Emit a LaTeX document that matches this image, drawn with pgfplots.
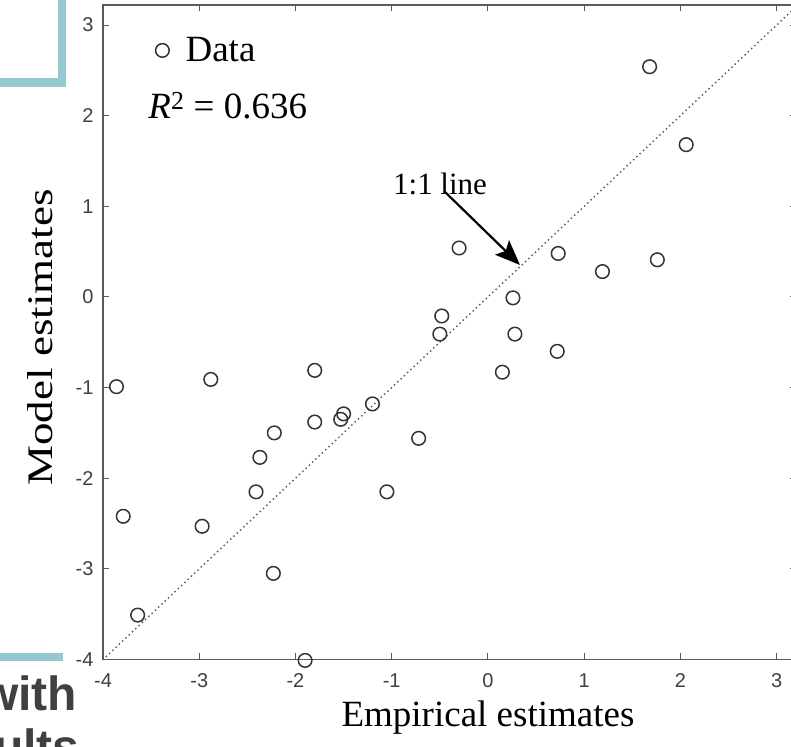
\documentclass[border=0pt]{standalone}
\usepackage{fontspec}
\setmainfont{Liberation Serif}
\newfontfamily\ticksans{Liberation Sans}
\usepackage{graphicx}
\usepackage{pgfplots}
\pgfplotsset{compat=1.18}
\usetikzlibrary{arrows.meta}
\definecolor{slideteal}{RGB}{150,200,207}
\definecolor{slidetext}{RGB}{64,64,64}
\definecolor{axgray}{RGB}{90,90,90}
\begin{document}
\begin{tikzpicture}
\useasboundingbox (0bp,0bp) rectangle (791bp,747bp);
\clip (0bp,0bp) rectangle (791bp,747bp);
\fill[white] (0bp,0bp) rectangle (791bp,747bp);
% leftovers of the slide around the figure
\fill[slideteal] (58bp,660bp) rectangle (66bp,747bp);
\fill[slideteal] (0bp,660bp) rectangle (66bp,669bp);
\fill[slideteal] (0bp,86bp) rectangle (63bp,94bp);
\node[anchor=base west, inner sep=0pt, text=slidetext, font=\ticksans\bfseries\fontsize{48bp}{53bp}\selectfont] at (-19bp,37bp) {with};
\node[anchor=base west, inner sep=0pt, text=slidetext, font=\ticksans\bfseries\fontsize{48bp}{53bp}\selectfont] at (-6bp,-16bp) {ults};
\begin{axis}[
  at={(103bp,87.5bp)}, anchor=south west,
  scale only axis, width=692.9bp, height=654.4bp,
  xmin=-4, xmax=3.2, ymin=-4, ymax=3.22,
  xtick={-4,-3,-2,-1,0,1,2,3}, ytick={-4,-3,-2,-1,0,1,2,3},
  xticklabels={-4,-3,-2,-1,0,1,2,3}, yticklabels={-4,-3,-2,-1,0,1,2,3},
  tick align=inside, tick pos=both, major tick length=6bp,
  axis line style={line width=1.3bp, axgray},
  every tick/.style={line width=1bp, axgray},
  tick label style={font=\ticksans\fontsize{20bp}{22bp}\selectfont, text=slidetext},
  xticklabel style={yshift=-11bp},
  yticklabel style={xshift=-6bp},
  xlabel={Empirical estimates},
  xlabel style={at={(axis description cs:0.5556,-0.1031)}, anchor=base, inner sep=0pt, font=\fontsize{37bp}{40bp}\selectfont},
  ylabel={\scalebox{1.25}[1]{Model estimates}},
  ylabel style={at={(axis description cs:-0.0736,0.492)}, anchor=base, inner sep=0pt, font=\fontsize{36bp}{40bp}\selectfont},
  clip=false,
  legend style={draw=none, fill=none, at={(axis cs:-3.387,2.72)}, anchor=west, xshift=-8bp, inner sep=0pt, font=\fontsize{37bp}{40bp}\selectfont},
  legend cell align=left,
  legend image code/.code={\draw[#1] plot coordinates {(0bp,0bp)}; \path (-8bp,0bp) (21bp,0bp);},
]
\addplot[black!65, line width=2bp, line cap=round, dash pattern=on 0bp off 4.5bp, forget plot]
  coordinates {(-4,-4) (3.2,3.2)};
\addplot[only marks, mark=o, mark size=6.8bp, mark options={line width=1.5bp, draw=black!80}]
  coordinates {
  (1.68,2.54) (2.06,1.68) (1.76,0.41) (1.19,0.28) (0.73,0.48)
  (-0.30,0.54) (0.26,-0.01) (0.28,-0.41) (-0.48,-0.21) (-0.50,-0.41)
  (0.72,-0.60) (0.15,-0.83) (-3.86,-0.99) (-2.88,-0.91) (-1.80,-0.81)
  (-1.20,-1.18) (-1.50,-1.29) (-1.53,-1.35) (-1.80,-1.38) (-2.22,-1.50)
  (-0.72,-1.56) (-2.37,-1.77) (-2.41,-2.15) (-1.05,-2.15) (-3.79,-2.42)
  (-2.97,-2.53) (-2.23,-3.05) (-3.64,-3.51) (-1.90,-4.01)
  };
\addlegendentry{Data}
\node[anchor=base west, inner sep=0pt, font=\fontsize{37bp}{40bp}\selectfont] at (axis cs:-3.53,1.97) {\textit{R}\textsuperscript{2} = 0.636};
\node[anchor=base west, inner sep=0pt, font=\fontsize{31bp}{34bp}\selectfont] at (axis cs:-0.987,1.125) {1:1 line};
\draw[-{Stealth[length=25bp,width=20bp,inset=5bp]}, line width=2.2bp] (axis cs:-0.446,1.158) -- (axis cs:0.333,0.353);
\end{axis}
\end{tikzpicture}
\end{document}
